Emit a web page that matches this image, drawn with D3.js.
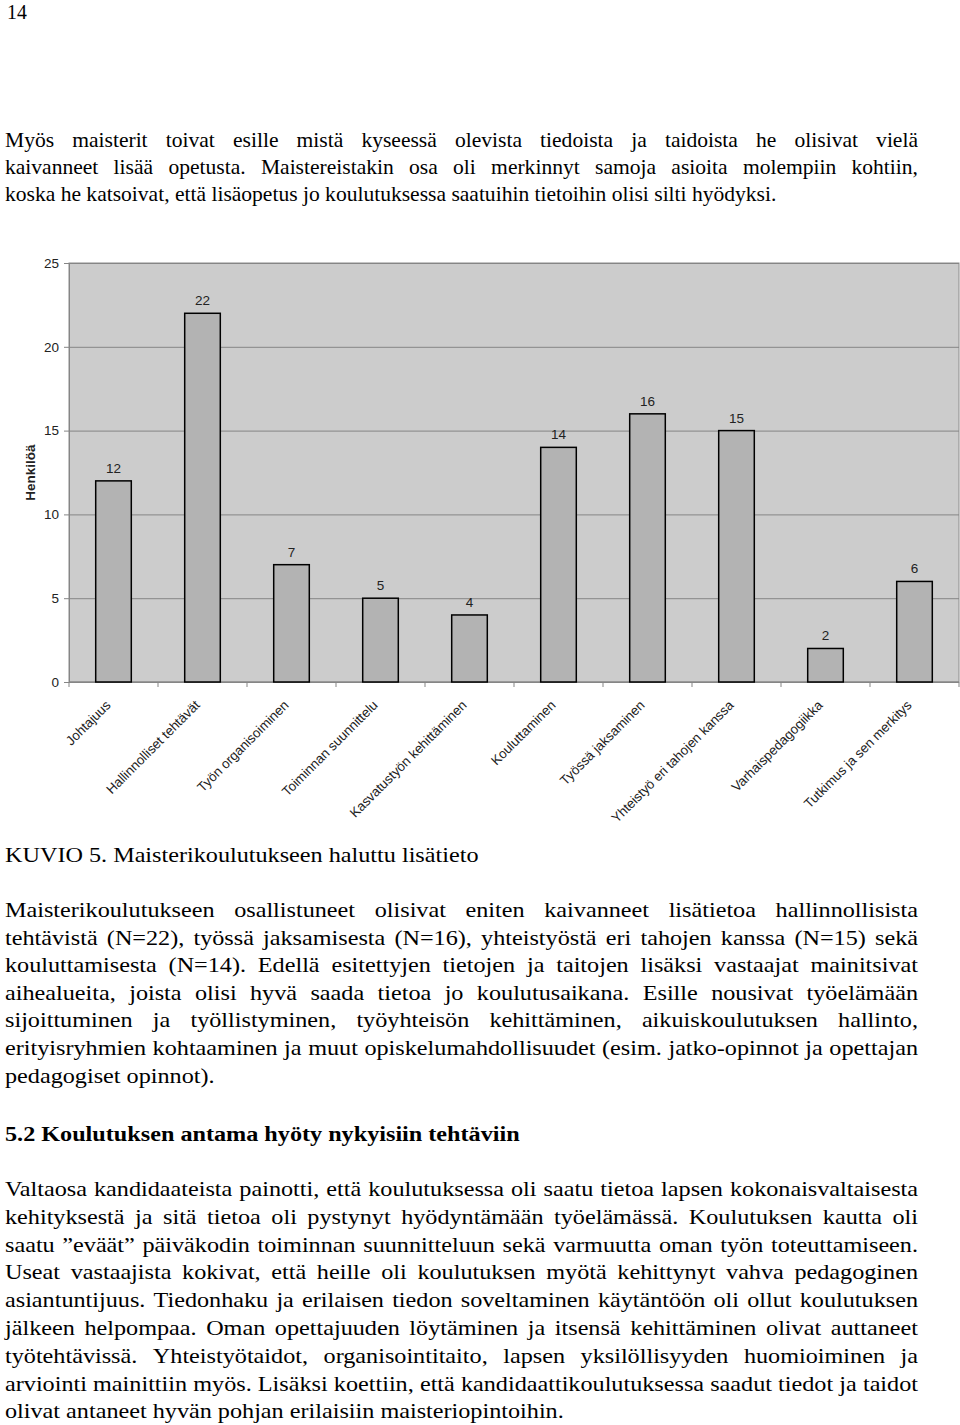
<!DOCTYPE html>
<html><head><meta charset="utf-8">
<script src="https://cdn.jsdelivr.net/npm/d3@7"></script>
<style>body{margin:0;background:#fff}svg{display:block}</style>
</head><body><svg id="c" width="960" height="1425"></svg>
<script>
// ---- data ----
const categories = ["Johtajuus","Hallinnolliset tehtävät","Työn organisoiminen","Toiminnan suunnittelu","Kasvatustyön kehittäminen","Kouluttaminen","Työssä jaksaminen","Yhteistyö eri tahojen kanssa","Varhaispedagogiikka","Tutkimus ja sen merkitys"];
const values = [12,22,7,5,4,14,16,15,2,6];
const yTicks = [0,5,10,15,20,25];
const yTitle = "Henkilöä";
const pageNumber = "14";
const para1 = [
 "Myös maisterit toivat esille mistä kyseessä olevista tiedoista ja taidoista he olisivat vielä",
 "kaivanneet lisää opetusta. Maistereistakin osa oli merkinnyt samoja asioita molempiin kohtiin,",
 "koska he katsoivat, että lisäopetus jo koulutuksessa saatuihin tietoihin olisi silti hyödyksi."];
const caption = "KUVIO 5. Maisterikoulutukseen haluttu lisätieto";
const para2 = [
 "Maisterikoulutukseen osallistuneet olisivat eniten kaivanneet lisätietoa hallinnollisista",
 "tehtävistä (N=22), työssä jaksamisesta (N=16), yhteistyöstä eri tahojen kanssa (N=15) sekä",
 "kouluttamisesta (N=14). Edellä esitettyjen tietojen ja taitojen lisäksi vastaajat mainitsivat",
 "aihealueita, joista olisi hyvä saada tietoa jo koulutusaikana. Esille nousivat työelämään",
 "sijoittuminen ja työllistyminen, työyhteisön kehittäminen, aikuiskoulutuksen hallinto,",
 "erityisryhmien kohtaaminen ja muut opiskelumahdollisuudet (esim. jatko-opinnot ja opettajan",
 "pedagogiset opinnot)."];
const heading = "5.2 Koulutuksen antama hyöty nykyisiin tehtäviin";
const para3 = [
 "Valtaosa kandidaateista painotti, että koulutuksessa oli saatu tietoa lapsen kokonaisvaltaisesta",
 "kehityksestä ja sitä tietoa oli pystynyt hyödyntämään työelämässä. Koulutuksen kautta oli",
 "saatu ”eväät” päiväkodin toiminnan suunnitteluun sekä varmuutta oman työn toteuttamiseen.",
 "Useat vastaajista kokivat, että heille oli koulutuksen myötä kehittynyt vahva pedagoginen",
 "asiantuntijuus. Tiedonhaku ja erilaisen tiedon soveltaminen käytäntöön oli ollut koulutuksen",
 "jälkeen helpompaa. Oman opettajuuden löytäminen ja itsensä kehittäminen olivat auttaneet",
 "työtehtävissä. Yhteistyötaidot, organisointitaito, lapsen yksilöllisyyden huomioiminen ja",
 "arviointi mainittiin myös. Lisäksi koettiin, että kandidaattikoulutuksessa saadut tiedot ja taidot",
 "olivat antaneet hyvän pohjan erilaisiin maisteriopintoihin."];

// ---- layout ----
const svg = d3.select("#c");
const serif = "'Liberation Serif','Times New Roman',serif";
const sans = "'Liberation Sans',Arial,sans-serif";
const FS = 22;
const textLeft = 5, textRight = 918;

function block(lines, y0, lh, opts={}) {
  const sx = opts.sx || 1;
  const g = svg.append("g").attr("font-family", serif).attr("font-size", FS)
    .attr("font-weight", opts.bold ? "bold" : null)
    .attr("transform", `translate(${opts.left != null ? opts.left : textLeft},0) scale(${sx},1)`);
  const W = (textRight - textLeft) / sx;
  lines.forEach((line, i) => {
    const yy = y0 + i * lh;
    const justify = !opts.noJustify && i < lines.length - 1;
    const t = g.append("text").attr("y", yy).attr("fill", "#000");
    if (!justify) { t.attr("x", 0).text(line); return; }
    const words = line.split(" ");
    const spans = words.map(w => t.append("tspan").attr("x", 0).text(w));
    const widths = spans.map(s => s.node().getComputedTextLength());
    const sum = d3.sum(widths);
    const gap = (W - sum) / (words.length - 1);
    let cx = 0;
    spans.forEach((s, k) => { s.attr("x", cx); cx += widths[k] + gap; });
  });
}

block([pageNumber], 19, 27, {noJustify:true, left:7, sx:0.9});
block(para1, 147, 27, {sx:0.98});
block([caption], 862, 27, {noJustify:true, sx:1.1});
block(para2, 917, 27.6, {sx:1.1});
block([heading], 1141, 27, {noJustify:true, bold:true, sx:1.1});
block(para3, 1196, 27.8, {sx:1.1});

// ---- chart ----
const pL = 69, pR = 959, pT = 263, pB = 682;
const x = d3.scaleBand().domain(categories).range([pL, pR]).paddingInner(0.6).paddingOuter(0.3);
const y = d3.scaleLinear().domain([0, 25]).range([pB, pT]);

svg.append("rect").attr("x", pL).attr("y", pT).attr("width", pR - pL).attr("height", pB - pT)
  .attr("fill", "#cccccc").attr("stroke", "#8c8c8c").attr("stroke-width", 1);

// gridlines
svg.append("g").attr("transform", `translate(${pL},0)`)
  .call(d3.axisLeft(y).tickValues(yTicks).tickSize(-(pR - pL)).tickFormat(""))
  .call(g => g.select(".domain").remove())
  .call(g => g.selectAll("line").attr("stroke", "#858585").attr("stroke-width", 1));

// y axis
svg.append("g").attr("transform", `translate(${pL},0)`)
  .call(d3.axisLeft(y).tickValues(yTicks).tickSize(5).tickPadding(5))
  .call(g => g.select(".domain").attr("stroke", "#858585"))
  .call(g => g.selectAll("line").attr("stroke", "#858585"))
  .call(g => g.selectAll("text").attr("font-family", sans).attr("font-size", 13.5).attr("fill", "#222"));

// x axis baseline + ticks at band boundaries
const half = (x.step() - x.bandwidth()) / 2;
const bounds = categories.map(c => x(c) - half).concat([x(categories[categories.length-1]) + x.bandwidth() + half]);
svg.append("line").attr("x1", pL).attr("x2", pR).attr("y1", pB).attr("y2", pB).attr("stroke", "#858585");
svg.append("g").selectAll("line").data(bounds).join("line")
  .attr("x1", d => d).attr("x2", d => d).attr("y1", pB).attr("y2", pB + 5).attr("stroke", "#858585");

// bars
svg.append("g").selectAll("rect").data(values).join("rect")
  .attr("x", (d, i) => x(categories[i])).attr("width", x.bandwidth())
  .attr("y", d => y(d)).attr("height", d => y(0) - y(d))
  .attr("fill", "#b3b3b3").attr("stroke", "#000").attr("stroke-width", 1.5);

// value labels
svg.append("g").selectAll("text").data(values).join("text")
  .attr("x", (d, i) => x(categories[i]) + x.bandwidth() / 2).attr("y", d => y(d) - 8)
  .attr("text-anchor", "middle").attr("font-family", sans).attr("font-size", 13.5).attr("fill", "#222")
  .text(d => d);

// category labels
svg.append("g").selectAll("text").data(categories).join("text")
  .attr("transform", c => `translate(${x(c) + x.bandwidth() / 2 - 2},706) rotate(-45)`)
  .attr("text-anchor", "end").attr("font-family", sans).attr("font-size", 13.3).attr("fill", "#222")
  .text(c => c);

// y title
svg.append("text").attr("transform", `translate(35,${(pT + pB) / 2}) rotate(-90)`)
  .attr("text-anchor", "middle").attr("font-family", sans).attr("font-size", 13.5).attr("font-weight", "bold").attr("fill", "#222")
  .text(yTitle);
</script></body></html>
